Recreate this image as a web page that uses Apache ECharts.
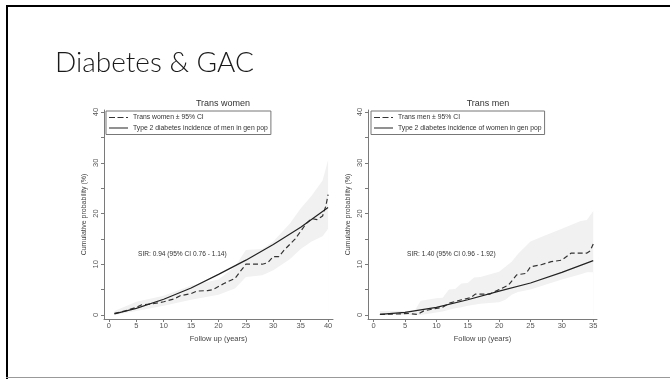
<!DOCTYPE html>
<html>
<head>
<meta charset="utf-8">
<script src="https://cdn.jsdelivr.net/npm/echarts@6/dist/echarts.min.js"></script>
<style>
  html, body { margin: 0; padding: 0; background: #fff; }
  #chart { width: 670px; height: 379px; }
</style>
</head>
<body>
<div id="chart"></div>
<script>
// Trans women: cumulative diabetes incidence (%) by years of follow-up
const twYears = [1, 3, 5, 6, 8, 9, 10, 12, 13, 15, 16, 18, 19, 21, 23, 24, 25, 28, 29, 30, 31, 32, 34, 35, 36, 37, 38, 39, 39.6, 40];
const twCum   = [0.3, 0.8, 1.5, 2.0, 2.2, 2.4, 2.6, 3.2, 3.8, 4.2, 4.7, 4.8, 5.0, 6.2, 7.2, 8.6, 10.0, 10.0, 10.3, 11.5, 11.5, 12.8, 15.0, 16.5, 18.0, 19.0, 18.8, 19.5, 21.5, 23.7];
// 95% CI band for trans women
const twBandYears = [1, 5, 10, 15, 20, 23, 25, 28, 30, 33, 35, 37, 39, 40];
const twLow       = [0.0, 0.8, 1.8, 3.0, 4.0, 5.2, 7.5, 7.8, 8.8, 11.0, 13.0, 14.5, 15.5, 17.0];
const twHigh      = [0.8, 2.6, 3.8, 5.8, 7.0, 9.5, 12.8, 13.0, 14.5, 18.0, 21.0, 23.5, 26.5, 30.5];
// General population men, type 2 diabetes
const menYears = [1, 5, 10, 15, 20, 25, 30, 35, 40];
const menCum   = [0.2, 1.3, 3.1, 5.3, 8.0, 10.8, 13.9, 17.3, 21.2];

// Trans men: cumulative diabetes incidence (%)
const tmYears = [1, 4, 5.5, 7, 8, 10, 11, 12, 14, 15.5, 16.2, 18.5, 20, 21.5, 22.8, 24.3, 25, 26.7, 28.3, 30, 31.5, 34, 34.5, 35];
const tmCum   = [0.1, 0.2, 0.3, 0.1, 0.8, 1.3, 1.5, 2.3, 3.0, 3.4, 4.1, 4.1, 5.0, 5.9, 7.9, 8.2, 9.5, 9.9, 10.5, 10.8, 12.2, 12.2, 12.6, 14.0];
// 95% CI band for trans men
const tmBandYears = [1, 6.5, 7.5, 10, 11, 12, 13, 14, 15, 16, 17, 20, 21, 22, 23, 25, 27, 30, 33, 34, 35];
const tmLow       = [0.0, 0.0, 0.0, 0.5, 0.7, 1.0, 1.3, 1.5, 1.8, 2.0, 2.2, 2.5, 3.0, 4.0, 4.5, 5.0, 5.8, 7.0, 8.0, 8.4, 8.4];
const tmHigh      = [0.8, 0.8, 2.8, 3.3, 3.4, 5.0, 5.1, 6.2, 6.3, 7.4, 7.5, 8.5, 9.5, 10.5, 12.0, 14.5, 15.5, 17.0, 18.5, 18.7, 20.5];
// General population women, type 2 diabetes
const womenYears = [1, 5, 10, 15, 20, 25, 30, 35];
const womenCum   = [0.1, 0.5, 1.5, 3.0, 4.7, 6.3, 8.4, 10.7];

const yTicks = [0, 5, 10, 15, 20, 25, 30, 35, 40];
const yLabels = [0, 10, 20, 30, 40];
const xTicksLeft = [0, 5, 10, 15, 20, 25, 30, 35, 40];
const xTicksRight = [0, 5, 10, 15, 20, 25, 30, 35];

const panelTitles = ['Trans women', 'Trans men'];
const legendNames = [
  ['Trans women \u00b1 95% CI', 'Type 2 diabetes incidence of men in gen pop'],
  ['Trans men \u00b1 95% CI', 'Type 2 diabetes incidence of women in gen pop']
];
const sirNotes = ['SIR: 0.94 (95% CI 0.76 - 1.14)', 'SIR: 1.40 (95% CI 0.96 - 1.92)'];

const FONT = 'Liberation Sans, Arial, sans-serif';
const axisGray = '#7a7a7a';
const labelGray = '#555';
// legend keys: long-long-short dash pattern, and a plain solid stroke
const DASH_ICON = 'path://M0,0h6v1h-6z M8.5,0h6v1h-6z M17,0h2v1h-2z';
const SOLID_ICON = 'path://M0,0h19v1h-19z';

const pairs = (xs, ys) => xs.map((x, i) => [x, ys[i]]);

function xAxisCfg(idx, max, ticks) {
  return {
    type: 'value', gridIndex: idx, min: -0.9, max: max,
    name: 'Follow up (years)', nameLocation: 'middle', nameGap: 11,
    nameTextStyle: { fontFamily: FONT, fontSize: 7.5, color: '#444' },
    axisLine: { show: true, onZero: false, lineStyle: { color: axisGray, width: 1 } },
    axisTick: { show: true, length: 3, customValues: ticks, lineStyle: { color: axisGray } },
    axisLabel: { customValues: ticks, fontFamily: FONT, fontSize: 7.5, color: labelGray, margin: 3 },
    splitLine: { show: false }
  };
}
function yAxisCfg(idx) {
  return {
    type: 'value', gridIndex: idx, min: -0.8, max: 40.4,
    name: 'Cumulative probability (%)', nameLocation: 'middle', nameGap: 16, nameRotate: 90,
    nameTextStyle: { fontFamily: FONT, fontSize: 7, color: '#444' },
    axisLine: { show: true, onZero: false, lineStyle: { color: axisGray, width: 1 } },
    axisTick: { show: true, length: 3, customValues: yTicks, lineStyle: { color: axisGray } },
    axisLabel: { customValues: yLabels, rotate: 90, fontFamily: FONT, fontSize: 7.5, color: labelGray, margin: 4 },
    splitLine: { show: false }
  };
}
// CI band: upper bound filled light grey, lower bound filled white on top of it
function bandSeries(idx, years, lo, hi) {
  return [
    {
      type: 'line', xAxisIndex: idx, yAxisIndex: idx, silent: true, z: 1,
      symbol: 'none', lineStyle: { opacity: 0 },
      areaStyle: { color: '#f1f1f1', opacity: 1, origin: 0 },
      data: pairs(years, hi)
    },
    {
      type: 'line', xAxisIndex: idx, yAxisIndex: idx, silent: true, z: 1,
      symbol: 'none', lineStyle: { opacity: 0 },
      areaStyle: { color: '#ffffff', opacity: 1, origin: 0 },
      data: pairs(years, lo)
    }
  ];
}
function curveSeries(idx, name, xs, ys, dashed) {
  return {
    type: 'line', name: name, xAxisIndex: idx, yAxisIndex: idx, symbol: 'none', z: 3,
    lineStyle: { color: dashed ? '#333' : '#222', width: 1.2, type: dashed ? [5, 3] : 'solid' },
    itemStyle: { color: dashed ? '#333' : '#222' },
    data: pairs(xs, ys)
  };
}
function legendCfg(idx, left) {
  return {
    data: [
      { name: legendNames[idx][0], icon: DASH_ICON },
      { name: legendNames[idx][1], icon: SOLID_ICON }
    ],
    orient: 'vertical', left: left, top: 111,
    borderColor: '#777', borderWidth: 1, padding: [3, 3, 3, 3],
    itemWidth: 19, itemHeight: 1.3, itemGap: 3.5,
    itemStyle: { borderWidth: 0 },
    textStyle: { fontFamily: FONT, fontSize: 6.8, color: '#333', padding: [0, 0, 0, 0] },
    selectedMode: false
  };
}

const chart = echarts.init(document.getElementById('chart'), null, { renderer: 'canvas' });
chart.setOption({
  animation: false,
  backgroundColor: '#ffffff',
  title: [
    { text: panelTitles[0], left: 218, top: 94, textAlign: 'center',
      textStyle: { fontFamily: FONT, fontSize: 9, fontWeight: 'normal', color: '#333' } },
    { text: panelTitles[1], left: 483, top: 94, textAlign: 'center',
      textStyle: { fontFamily: FONT, fontSize: 9, fontWeight: 'normal', color: '#333' } }
  ],
  grid: [
    { left: 104, top: 110, width: 229, height: 209, containLabel: false },
    { left: 368, top: 110, width: 229, height: 209, containLabel: false }
  ],
  xAxis: [xAxisCfg(0, 40.9, xTicksLeft), xAxisCfg(1, 35.6, xTicksRight)],
  yAxis: [yAxisCfg(0), yAxisCfg(1)],
  legend: [legendCfg(0, 106), legendCfg(1, 371)],
  series: [
    ...bandSeries(0, twBandYears, twLow, twHigh),
    curveSeries(0, legendNames[0][0], twYears, twCum, true),
    curveSeries(0, legendNames[0][1], menYears, menCum, false),
    ...bandSeries(1, tmBandYears, tmLow, tmHigh),
    curveSeries(1, legendNames[1][0], tmYears, tmCum, true),
    curveSeries(1, legendNames[1][1], womenYears, womenCum, false)
  ],
  graphic: [
    // slide frame
    { type: 'rect', z: 100, shape: { x: 6, y: 5, width: 664, height: 2 }, style: { fill: '#000' }, silent: true },
    { type: 'rect', z: 100, shape: { x: 6, y: 5, width: 2, height: 374 }, style: { fill: '#000' }, silent: true },
    { type: 'rect', z: 100, shape: { x: 6, y: 377, width: 664, height: 1 }, style: { fill: '#999' }, silent: true },
    // slide heading
    { type: 'text', z: 100, x: 55, y: 77, style: {
        text: 'Diabetes & GAC', fontFamily: 'Lato, Open Sans, sans-serif', fontWeight: 300,
        fontSize: 28, fill: '#1a1a1a', textVerticalAlign: 'bottom' } },
    // SIR notes
    { type: 'text', z: 100, x: 138, y: 254, style: {
        text: sirNotes[0], fontFamily: FONT, fontSize: 6.6, fill: '#333', textVerticalAlign: 'middle' } },
    { type: 'text', z: 100, x: 407, y: 254, style: {
        text: sirNotes[1], fontFamily: FONT, fontSize: 6.6, fill: '#333', textVerticalAlign: 'middle' } }
  ]
});
</script>
</body>
</html>
